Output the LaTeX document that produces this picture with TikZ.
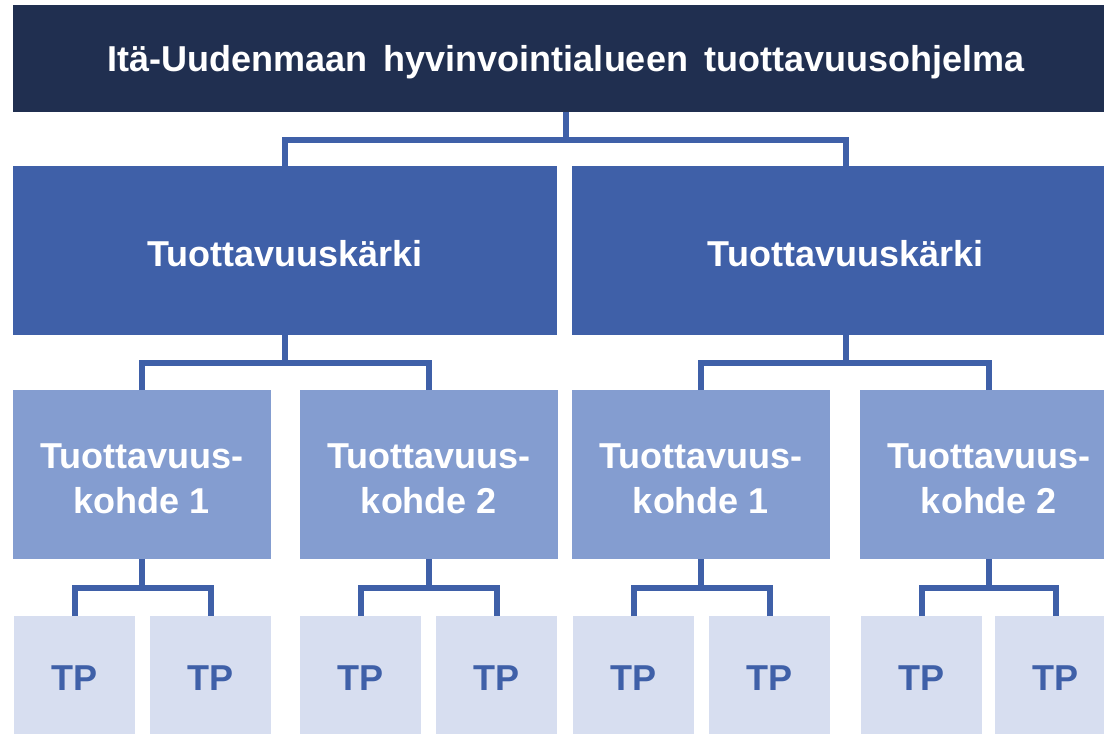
\documentclass[tikz,border=0pt]{standalone}
\usepackage{fontspec}
\setmainfont{Liberation Sans}
\definecolor{navy}{RGB}{32,47,80}
\definecolor{midblue}{RGB}{63,96,168}
\definecolor{lightblue}{RGB}{132,157,208}
\definecolor{paleblue}{RGB}{215,222,240}
\tikzset{
  box/.style={rectangle, inner sep=0pt, outer sep=0pt},
  txt/.style={inner sep=0pt, font=\bfseries\fontsize{36}{45}\selectfont, align=center},
  topbox/.style={box, fill=navy, minimum height=107pt},
  skbox/.style={box, fill=midblue, minimum height=169pt},
  kbox/.style={box, fill=lightblue, minimum width=258pt, minimum height=169pt},
  tpbox/.style={box, fill=paleblue, minimum width=121pt, minimum height=120pt},
  conn/.style={draw=midblue, line width=6pt, line join=miter}
}
\begin{document}
\begin{tikzpicture}[x=1pt,y=-1pt]
\useasboundingbox (0,0) rectangle (1104,734);
\clip (0,0) rectangle (1104,734);
\node[topbox, minimum width=1106pt, label={[txt, text=white, yshift=-4pt]center:{Itä-Uudenmaan\hspace{0.17em} hyvinvointialueen\hspace{0.17em} tuottavuusohjelma}}] (top) at (566,58.5) {};
\node[skbox, minimum width=544pt, label={[txt, text=white, yshift=-3pt]center:Tuottavuuskärki}] (ska) at (285,250.5) {};
\node[skbox, minimum width=547pt, label={[txt, text=white, yshift=-3pt]center:Tuottavuuskärki}] (skb) at (845.5,250.5) {};
\node[kbox, label={[txt, text=white, yshift=-4pt]center:{Tuottavuus-\\kohde 1}}] (k1) at (142,474.5) {};
\node[kbox, label={[txt, text=white, yshift=-4pt]center:{Tuottavuus-\\kohde 2}}] (k2) at (429,474.5) {};
\node[kbox, label={[txt, text=white, yshift=-4pt]center:{Tuottavuus-\\kohde 1}}] (k3) at (701,474.5) {};
\node[kbox, label={[txt, text=white, yshift=-4pt]center:{Tuottavuus-\\kohde 2}}] (k4) at (989,474.5) {};
\foreach \i/\x in {1/74.5,2/210.5,3/360.5,4/496.5,5/633.5,6/769.5,7/921.5,8/1055.5}{
  \node[tpbox, label={[txt, text=midblue, yshift=-2pt]center:TP}] (tp\i) at (\x,676) {};
}
% connectors
\coordinate (h1) at (0,140);
\coordinate (h2) at (0,363);
\coordinate (h3) at (0,588);
\draw[conn] (top.south) -- (top.south |- h1);
\draw[conn] (ska.north) |- (skb.north |- h1) -- (skb.north);
\draw[conn] (ska.south) -- (ska.south |- h2);
\draw[conn] (k1.north) |- (k2.north |- h2) -- (k2.north);
\draw[conn] (skb.south) -- (skb.south |- h2);
\draw[conn] (k3.north) |- (k4.north |- h2) -- (k4.north);
\foreach \k/\a/\b in {k1/tp1/tp2,k2/tp3/tp4,k3/tp5/tp6,k4/tp7/tp8}{
  \draw[conn] (\k.south) -- (\k.south |- h3);
  \draw[conn] (\a.north) |- (\b.north |- h3) -- (\b.north);
}
\end{tikzpicture}
\end{document}
